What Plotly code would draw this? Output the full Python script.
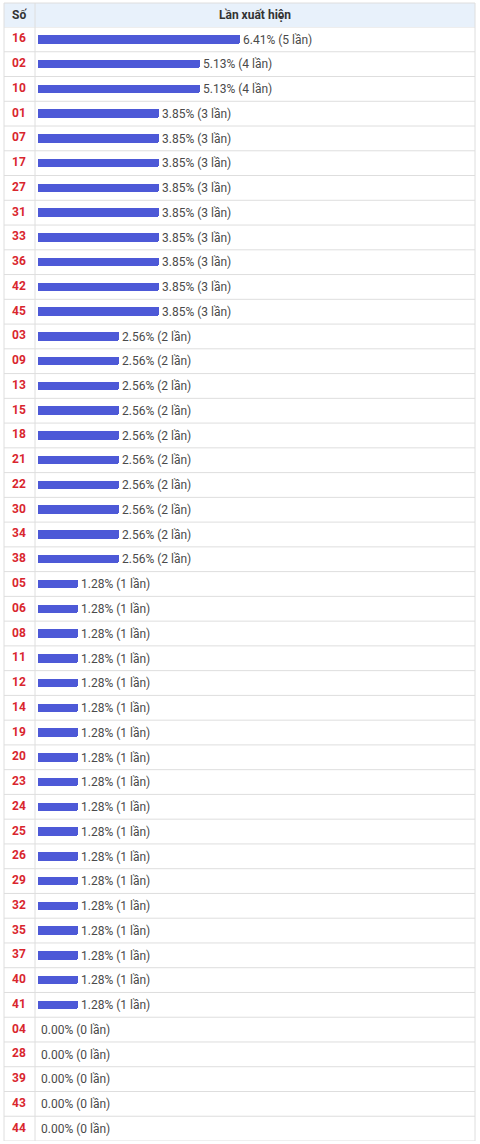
import plotly.graph_objects as go

numbers = ["16", "02", "10", "01", "07", "17", "27", "31", "33", "36", "42", "45",
           "03", "09", "13", "15", "18", "21", "22", "30", "34", "38",
           "05", "06", "08", "11", "12", "14", "19", "20", "23", "24", "25", "26",
           "29", "32", "35", "37", "40", "41",
           "04", "28", "39", "43", "44"]
counts = [5, 4, 4, 3, 3, 3, 3, 3, 3, 3, 3, 3,
          2, 2, 2, 2, 2, 2, 2, 2, 2, 2,
          1, 1, 1, 1, 1, 1, 1, 1, 1, 1, 1, 1,
          1, 1, 1, 1, 1, 1,
          0, 0, 0, 0, 0]
percents = ["6.41", "5.13", "5.13"] + ["3.85"] * 9 + ["2.56"] * 10 + ["1.28"] * 18 + ["0.00"] * 5
header_left = "Số"
header_right = "Lần xuất hiện"

labels = [f"{p}% ({c} lần)" for p, c in zip(percents, counts)]

W, H = 480, 1144
ml, mr, mt, mb = 4, 5, 27, 3
pw = W - ml - mr
ph = H - mt - mb
bar_x0_px = 38
px_per_count = 40.4
xr = [(ml - bar_x0_px) / px_per_count, (W - mr - bar_x0_px) / px_per_count]
n = len(numbers)
row_h = ph / n

fig = go.Figure()
fig.add_trace(go.Bar(
    y=numbers, x=counts, orientation="h",
    marker=dict(color="#4d59d7", cornerradius=2, line=dict(width=0)),
    width=8.5 / row_h,
    text=labels, textposition="outside", cliponaxis=False, constraintext="none",
    textfont=dict(family="Roboto", size=12, color="#4a4a4a"),
    hoverinfo="skip",
))
num_x = xr[0] + (19 - ml) / px_per_count
fig.add_trace(go.Scatter(
    y=numbers, x=[num_x] * n, mode="text", text=numbers,
    textposition="middle center",
    textfont=dict(family="Roboto", size=12, color="#d9262e", weight="bold"),
    hoverinfo="skip", cliponaxis=False,
))

shapes = []
hdr_top = 1 + (mt - 3) / ph
shapes.append(dict(type="rect", xref="paper", yref="paper", x0=0, x1=1, y0=1, y1=hdr_top,
                   fillcolor="#e8f1fb", line=dict(width=0), layer="below"))
for i in range(n + 1):
    shapes.append(dict(type="line", xref="paper", yref="y", x0=0, x1=1,
                       y0=i - 0.5, y1=i - 0.5, line=dict(color="#dedede", width=1)))
shapes.append(dict(type="line", xref="paper", yref="paper", x0=0, x1=1, y0=hdr_top, y1=hdr_top,
                   line=dict(color="#dedede", width=1)))
div_x = (35 - ml) / pw
for xv in [0, div_x, 1]:
    shapes.append(dict(type="line", xref="paper", yref="paper", x0=xv, x1=xv, y0=0, y1=hdr_top,
                       line=dict(color="#dedede", width=1)))

annotations = [
    dict(text=header_left, xref="paper", yref="paper", x=(19 - ml) / pw, y=(1 + hdr_top) / 2,
         showarrow=False, xanchor="center", yanchor="middle",
         font=dict(family="Roboto", size=12, color="#333333", weight="bold")),
    dict(text=header_right, xref="paper", yref="paper", x=(div_x + 1) / 2, y=(1 + hdr_top) / 2,
         showarrow=False, xanchor="center", yanchor="middle",
         font=dict(family="Roboto", size=12, color="#333333", weight="bold")),
]

fig.update_layout(
    width=W, height=H,
    margin=dict(l=ml, r=mr, t=mt, b=mb, pad=0),
    paper_bgcolor="white", plot_bgcolor="white",
    showlegend=False,
    xaxis=dict(range=xr, visible=False, fixedrange=True),
    yaxis=dict(type="category", categoryorder="array", categoryarray=numbers,
               range=[n - 0.5, -0.5], visible=False, fixedrange=True),
    shapes=shapes, annotations=annotations,
    bargap=0,
)
fig.write_html("out.html", config={"displayModeBar": False},
               post_script="document.body.style.margin='0';document.body.style.overflow='hidden';")
